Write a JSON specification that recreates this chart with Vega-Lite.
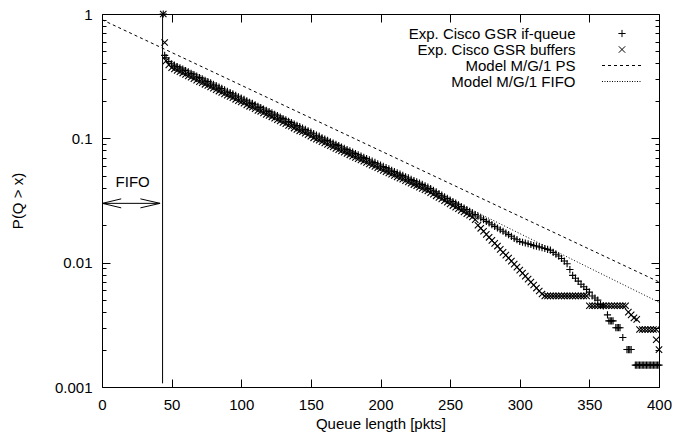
{
"$schema": "https://vega.github.io/schema/vega-lite/v6.json",
"width": 557, "height": 373,
"autosize": "none",
"padding": {"left": 102, "top": 14, "right": 15, "bottom": 49},
"config": {
  "font": "Liberation Sans",
  "view": {"stroke": "black", "strokeWidth": 1},
  "axis": {"domain": false, "grid": false, "tickColor": "black", "tickWidth": 1, "labelColor": "black", "titleColor": "black", "labelFontSize": 15, "titleFontSize": 15, "titleFontWeight": "normal", "labelFlush": false, "labelOverlap": false, "labelBound": false},
  "legend": {"orient": "none", "legendX": 481, "legendY": 12, "title": null, "labelAlign": "right", "labelOffset": -54, "symbolOffset": 31.5, "symbolSize": 64, "symbolStrokeColor": "black", "symbolFillColor": "transparent", "symbolStrokeWidth": 1, "labelFontSize": 15, "labelColor": "black", "labelLimit": 0, "rowPadding": -0.5, "padding": 0}
},
"datasets": {
  "vline": [{"q": 43.5, "p": 0.00107, "p2": 1}],
  "arrow": [{"q": 0.3, "q2": 41.7, "p": 0.03}],
  "heads": [
    {"q": 13.8, "p": 0.0326, "h": "l", "o": 1}, {"q": 0.3, "p": 0.03, "h": "l", "o": 2}, {"q": 13.8, "p": 0.0276, "h": "l", "o": 3},
    {"q": 27.6, "p": 0.0326, "h": "r", "o": 1}, {"q": 41.7, "p": 0.03, "h": "r", "o": 2}, {"q": 27.6, "p": 0.0276, "h": "r", "o": 3}
  ],
  "label": [{"q": 22, "p": 0.0447, "t": "FIFO"}],
  "models": [
    {"q": 0, "p": 0.90, "m": "ps"}, {"q": 400, "p": 0.0070, "m": "ps"},
    {"q": 43.5, "p": 0.45, "m": "fifo"}, {"q": 400, "p": 0.0048, "m": "fifo"}
  ],
  "pts": [
    {"q":44,"p":1.0,"s":"i"},{"q":45,"p":0.465,"s":"i"},{"q":46,"p":0.445,"s":"i"},{"q":48,"p":0.415,"s":"i"},{"q":50,"p":0.398,"s":"i"},
    {"q":52,"p":0.388,"s":"i"},{"q":54,"p":0.378,"s":"i"},{"q":56,"p":0.369,"s":"i"},{"q":58,"p":0.360,"s":"i"},{"q":60,"p":0.351,"s":"i"},
    {"q":62,"p":0.342,"s":"i"},{"q":64,"p":0.333,"s":"i"},{"q":66,"p":0.325,"s":"i"},{"q":68,"p":0.316,"s":"i"},{"q":70,"p":0.308,"s":"i"},
    {"q":72,"p":0.301,"s":"i"},{"q":74,"p":0.293,"s":"i"},{"q":76,"p":0.286,"s":"i"},{"q":78,"p":0.279,"s":"i"},{"q":80,"p":0.272,"s":"i"},
    {"q":82,"p":0.265,"s":"i"},{"q":84,"p":0.258,"s":"i"},{"q":86,"p":0.252,"s":"i"},{"q":88,"p":0.245,"s":"i"},{"q":90,"p":0.239,"s":"i"},
    {"q":92,"p":0.233,"s":"i"},{"q":94,"p":0.228,"s":"i"},{"q":96,"p":0.222,"s":"i"},{"q":98,"p":0.216,"s":"i"},{"q":100,"p":0.211,"s":"i"},
    {"q":102,"p":0.206,"s":"i"},{"q":104,"p":0.200,"s":"i"},{"q":106,"p":0.195,"s":"i"},{"q":108,"p":0.191,"s":"i"},{"q":110,"p":0.186,"s":"i"},
    {"q":112,"p":0.181,"s":"i"},{"q":114,"p":0.177,"s":"i"},{"q":116,"p":0.172,"s":"i"},{"q":118,"p":0.168,"s":"i"},{"q":120,"p":0.164,"s":"i"},
    {"q":122,"p":0.160,"s":"i"},{"q":124,"p":0.156,"s":"i"},{"q":126,"p":0.152,"s":"i"},{"q":128,"p":0.148,"s":"i"},{"q":130,"p":0.144,"s":"i"},
    {"q":132,"p":0.141,"s":"i"},{"q":134,"p":0.137,"s":"i"},{"q":136,"p":0.134,"s":"i"},{"q":138,"p":0.130,"s":"i"},{"q":140,"p":0.127,"s":"i"},
    {"q":142,"p":0.124,"s":"i"},{"q":144,"p":0.121,"s":"i"},{"q":146,"p":0.118,"s":"i"},{"q":148,"p":0.115,"s":"i"},{"q":150,"p":0.112,"s":"i"},
    {"q":152,"p":0.109,"s":"i"},{"q":154,"p":0.106,"s":"i"},{"q":156,"p":0.104,"s":"i"},{"q":158,"p":0.101,"s":"i"},{"q":160,"p":0.0986,"s":"i"},
    {"q":162,"p":0.0962,"s":"i"},{"q":164,"p":0.0938,"s":"i"},{"q":166,"p":0.0916,"s":"i"},{"q":168,"p":0.0894,"s":"i"},{"q":170,"p":0.0873,"s":"i"},
    {"q":172,"p":0.0851,"s":"i"},{"q":174,"p":0.0832,"s":"i"},{"q":176,"p":0.0813,"s":"i"},{"q":178,"p":0.0793,"s":"i"},{"q":180,"p":0.0774,"s":"i"},
    {"q":182,"p":0.0755,"s":"i"},{"q":184,"p":0.0738,"s":"i"},{"q":186,"p":0.0721,"s":"i"},{"q":188,"p":0.0703,"s":"i"},{"q":190,"p":0.0687,"s":"i"},
    {"q":192,"p":0.0670,"s":"i"},{"q":194,"p":0.0655,"s":"i"},{"q":196,"p":0.0640,"s":"i"},{"q":198,"p":0.0624,"s":"i"},{"q":200,"p":0.0610,"s":"i"},
    {"q":202,"p":0.0594,"s":"i"},{"q":204,"p":0.0581,"s":"i"},{"q":206,"p":0.0568,"s":"i"},{"q":208,"p":0.0553,"s":"i"},{"q":210,"p":0.0541,"s":"i"},
    {"q":212,"p":0.0527,"s":"i"},{"q":214,"p":0.0515,"s":"i"},{"q":216,"p":0.0504,"s":"i"},{"q":218,"p":0.0491,"s":"i"},{"q":220,"p":0.0480,"s":"i"},
    {"q":222,"p":0.0468,"s":"i"},{"q":224,"p":0.0457,"s":"i"},{"q":226,"p":0.0447,"s":"i"},{"q":228,"p":0.0436,"s":"i"},{"q":230,"p":0.0426,"s":"i"},
    {"q":232,"p":0.0415,"s":"i"},{"q":234,"p":0.0406,"s":"i"},{"q":236,"p":0.0394,"s":"i"},{"q":238,"p":0.0382,"s":"i"},{"q":240,"p":0.0371,"s":"i"},
    {"q":242,"p":0.0360,"s":"i"},{"q":244,"p":0.0349,"s":"i"},{"q":246,"p":0.0339,"s":"i"},{"q":248,"p":0.0329,"s":"i"},{"q":250,"p":0.0319,"s":"i"},
    {"q":252,"p":0.0310,"s":"i"},{"q":254,"p":0.0301,"s":"i"},{"q":256,"p":0.0292,"s":"i"},{"q":258,"p":0.0283,"s":"i"},{"q":260,"p":0.0275,"s":"i"},
    {"q":262,"p":0.0267,"s":"i"},{"q":264,"p":0.0259,"s":"i"},{"q":266,"p":0.0251,"s":"i"},{"q":268,"p":0.0244,"s":"i"},{"q":270,"p":0.0237,"s":"i"},
    {"q":272,"p":0.0229,"s":"i"},{"q":274,"p":0.0222,"s":"i"},{"q":276,"p":0.0215,"s":"i"},{"q":278,"p":0.0209,"s":"i"},{"q":280,"p":0.0202,"s":"i"},
    {"q":282,"p":0.0196,"s":"i"},{"q":284,"p":0.0190,"s":"i"},{"q":286,"p":0.0184,"s":"i"},{"q":288,"p":0.0179,"s":"i"},{"q":290,"p":0.0173,"s":"i"},
    {"q":292,"p":0.0168,"s":"i"},{"q":294,"p":0.0163,"s":"i"},{"q":296,"p":0.0157,"s":"i"},{"q":298,"p":0.0153,"s":"i"},{"q":300,"p":0.0148,"s":"i"},
    {"q":302,"p":0.0146,"s":"i"},{"q":304,"p":0.0144,"s":"i"},{"q":306,"p":0.0142,"s":"i"},{"q":308,"p":0.0140,"s":"i"},{"q":310,"p":0.0137,"s":"i"},
    {"q":312,"p":0.0136,"s":"i"},{"q":314,"p":0.0134,"s":"i"},{"q":316,"p":0.0132,"s":"i"},{"q":318,"p":0.0130,"s":"i"},{"q":320,"p":0.0128,"s":"i"},
    {"q":322,"p":0.0126,"s":"i"},{"q":324,"p":0.0121,"s":"i"},{"q":326,"p":0.0117,"s":"i"},{"q":328,"p":0.0113,"s":"i"},{"q":330,"p":0.0108,"s":"i"},
    {"q":332,"p":0.0103,"s":"i"},{"q":334,"p":0.0098,"s":"i"},{"q":336,"p":0.0088,"s":"i"},{"q":338,"p":0.0079,"s":"i"},{"q":340,"p":0.0075,"s":"i"},
    {"q":342,"p":0.0071,"s":"i"},{"q":344,"p":0.0067,"s":"i"},{"q":346,"p":0.0064,"s":"i"},{"q":348,"p":0.0061,"s":"i"},{"q":350,"p":0.0058,"s":"i"},
    {"q":352,"p":0.0054,"s":"i"},{"q":354,"p":0.0052,"s":"i"},{"q":356,"p":0.0050,"s":"i"},{"q":358,"p":0.0046,"s":"i"},{"q":360,"p":0.0045,"s":"i"},
    {"q":363,"p":0.0038,"s":"i"},{"q":364,"p":0.0034,"s":"i"},{"q":365,"p":0.0034,"s":"i"},{"q":366,"p":0.0034,"s":"i"},{"q":367,"p":0.0034,"s":"i"},
    {"q":369,"p":0.0030,"s":"i"},{"q":370,"p":0.0030,"s":"i"},{"q":371,"p":0.0030,"s":"i"},{"q":372,"p":0.0030,"s":"i"},{"q":374,"p":0.0025,"s":"i"},
    {"q":377,"p":0.0020,"s":"i"},{"q":378,"p":0.0020,"s":"i"},{"q":379,"p":0.0020,"s":"i"},{"q":380,"p":0.0020,"s":"i"},
    {"q":383,"p":0.0015,"s":"i"},{"q":384,"p":0.0015,"s":"i"},{"q":385,"p":0.0015,"s":"i"},{"q":386,"p":0.0015,"s":"i"},{"q":387,"p":0.0015,"s":"i"},
    {"q":388,"p":0.0015,"s":"i"},{"q":389,"p":0.0015,"s":"i"},{"q":390,"p":0.0015,"s":"i"},{"q":391,"p":0.0015,"s":"i"},{"q":392,"p":0.0015,"s":"i"},
    {"q":393,"p":0.0015,"s":"i"},{"q":394,"p":0.0015,"s":"i"},{"q":395,"p":0.0015,"s":"i"},{"q":396,"p":0.0015,"s":"i"},{"q":397,"p":0.0015,"s":"i"},
    {"q":398,"p":0.0015,"s":"i"},{"q":399,"p":0.0015,"s":"i"},{"q":400,"p":0.0015,"s":"i"},

    {"q":44,"p":1.0,"s":"b"},{"q":45,"p":0.59,"s":"b"},{"q":46,"p":0.42,"s":"b"},{"q":48,"p":0.39,"s":"b"},{"q":50,"p":0.37,"s":"b"},
    {"q":52,"p":0.361,"s":"b"},{"q":54,"p":0.352,"s":"b"},{"q":56,"p":0.343,"s":"b"},{"q":58,"p":0.335,"s":"b"},{"q":60,"p":0.326,"s":"b"},
    {"q":62,"p":0.318,"s":"b"},{"q":64,"p":0.310,"s":"b"},{"q":66,"p":0.302,"s":"b"},{"q":68,"p":0.294,"s":"b"},{"q":70,"p":0.286,"s":"b"},
    {"q":72,"p":0.280,"s":"b"},{"q":74,"p":0.272,"s":"b"},{"q":76,"p":0.266,"s":"b"},{"q":78,"p":0.259,"s":"b"},{"q":80,"p":0.253,"s":"b"},
    {"q":82,"p":0.246,"s":"b"},{"q":84,"p":0.240,"s":"b"},{"q":86,"p":0.234,"s":"b"},{"q":88,"p":0.228,"s":"b"},{"q":90,"p":0.222,"s":"b"},
    {"q":92,"p":0.217,"s":"b"},{"q":94,"p":0.212,"s":"b"},{"q":96,"p":0.206,"s":"b"},{"q":98,"p":0.201,"s":"b"},{"q":100,"p":0.196,"s":"b"},
    {"q":102,"p":0.192,"s":"b"},{"q":104,"p":0.186,"s":"b"},{"q":106,"p":0.181,"s":"b"},{"q":108,"p":0.178,"s":"b"},{"q":110,"p":0.173,"s":"b"},
    {"q":112,"p":0.168,"s":"b"},{"q":114,"p":0.165,"s":"b"},{"q":116,"p":0.160,"s":"b"},{"q":118,"p":0.156,"s":"b"},{"q":120,"p":0.153,"s":"b"},
    {"q":122,"p":0.149,"s":"b"},{"q":124,"p":0.145,"s":"b"},{"q":126,"p":0.141,"s":"b"},{"q":128,"p":0.138,"s":"b"},{"q":130,"p":0.134,"s":"b"},
    {"q":132,"p":0.131,"s":"b"},{"q":134,"p":0.127,"s":"b"},{"q":136,"p":0.125,"s":"b"},{"q":138,"p":0.121,"s":"b"},{"q":140,"p":0.118,"s":"b"},
    {"q":142,"p":0.115,"s":"b"},{"q":144,"p":0.113,"s":"b"},{"q":146,"p":0.110,"s":"b"},{"q":148,"p":0.107,"s":"b"},{"q":150,"p":0.104,"s":"b"},
    {"q":152,"p":0.101,"s":"b"},{"q":154,"p":0.0986,"s":"b"},{"q":156,"p":0.0967,"s":"b"},{"q":158,"p":0.0939,"s":"b"},{"q":160,"p":0.0917,"s":"b"},
    {"q":162,"p":0.0895,"s":"b"},{"q":164,"p":0.0872,"s":"b"},{"q":166,"p":0.0852,"s":"b"},{"q":168,"p":0.0831,"s":"b"},{"q":170,"p":0.0812,"s":"b"},
    {"q":172,"p":0.0791,"s":"b"},{"q":174,"p":0.0774,"s":"b"},{"q":176,"p":0.0756,"s":"b"},{"q":178,"p":0.0737,"s":"b"},{"q":180,"p":0.0720,"s":"b"},
    {"q":182,"p":0.0702,"s":"b"},{"q":184,"p":0.0686,"s":"b"},{"q":186,"p":0.0671,"s":"b"},{"q":188,"p":0.0654,"s":"b"},{"q":190,"p":0.0639,"s":"b"},
    {"q":192,"p":0.0623,"s":"b"},{"q":194,"p":0.0609,"s":"b"},{"q":196,"p":0.0595,"s":"b"},{"q":198,"p":0.0580,"s":"b"},{"q":200,"p":0.0567,"s":"b"},
    {"q":202,"p":0.0552,"s":"b"},{"q":204,"p":0.0540,"s":"b"},{"q":206,"p":0.0528,"s":"b"},{"q":208,"p":0.0514,"s":"b"},{"q":210,"p":0.0503,"s":"b"},
    {"q":212,"p":0.0490,"s":"b"},{"q":214,"p":0.0479,"s":"b"},{"q":216,"p":0.0469,"s":"b"},{"q":218,"p":0.0457,"s":"b"},{"q":220,"p":0.0446,"s":"b"},
    {"q":222,"p":0.0435,"s":"b"},{"q":224,"p":0.0425,"s":"b"},{"q":226,"p":0.0416,"s":"b"},{"q":228,"p":0.0405,"s":"b"},{"q":230,"p":0.0396,"s":"b"},
    {"q":232,"p":0.0386,"s":"b"},{"q":234,"p":0.0378,"s":"b"},{"q":236,"p":0.0366,"s":"b"},{"q":238,"p":0.0355,"s":"b"},{"q":240,"p":0.0345,"s":"b"},
    {"q":242,"p":0.0335,"s":"b"},{"q":244,"p":0.0325,"s":"b"},{"q":246,"p":0.0315,"s":"b"},{"q":248,"p":0.0306,"s":"b"},{"q":250,"p":0.0297,"s":"b"},
    {"q":252,"p":0.0288,"s":"b"},{"q":254,"p":0.0280,"s":"b"},{"q":256,"p":0.0272,"s":"b"},{"q":258,"p":0.0263,"s":"b"},{"q":260,"p":0.0256,"s":"b"},
    {"q":262,"p":0.0248,"s":"b"},{"q":264,"p":0.0241,"s":"b"},{"q":266,"p":0.0233,"s":"b"},{"q":268,"p":0.0222,"s":"b"},{"q":270,"p":0.0200,"s":"b"},
    {"q":272,"p":0.0189,"s":"b"},{"q":274,"p":0.0179,"s":"b"},{"q":276,"p":0.0169,"s":"b"},{"q":278,"p":0.0160,"s":"b"},{"q":280,"p":0.0151,"s":"b"},
    {"q":282,"p":0.0143,"s":"b"},{"q":284,"p":0.0136,"s":"b"},{"q":286,"p":0.0128,"s":"b"},{"q":288,"p":0.0121,"s":"b"},{"q":290,"p":0.0115,"s":"b"},
    {"q":292,"p":0.0109,"s":"b"},{"q":294,"p":0.0103,"s":"b"},{"q":296,"p":0.00973,"s":"b"},{"q":298,"p":0.00920,"s":"b"},{"q":300,"p":0.00871,"s":"b"},
    {"q":302,"p":0.00824,"s":"b"},{"q":304,"p":0.00780,"s":"b"},{"q":306,"p":0.00738,"s":"b"},{"q":308,"p":0.00698,"s":"b"},{"q":310,"p":0.00661,"s":"b"},
    {"q":312,"p":0.00625,"s":"b"},{"q":314,"p":0.00592,"s":"b"},{"q":316,"p":0.00560,"s":"b"},
    {"q":318,"p":0.0054,"s":"b"},{"q":320,"p":0.0054,"s":"b"},{"q":322,"p":0.0054,"s":"b"},{"q":324,"p":0.0054,"s":"b"},{"q":326,"p":0.0054,"s":"b"},
    {"q":328,"p":0.0054,"s":"b"},{"q":330,"p":0.0054,"s":"b"},{"q":332,"p":0.0054,"s":"b"},{"q":334,"p":0.0054,"s":"b"},{"q":336,"p":0.0054,"s":"b"},
    {"q":338,"p":0.0054,"s":"b"},{"q":340,"p":0.0054,"s":"b"},{"q":342,"p":0.0054,"s":"b"},{"q":344,"p":0.0054,"s":"b"},{"q":346,"p":0.0054,"s":"b"},
    {"q":348,"p":0.0054,"s":"b"},
    {"q":350,"p":0.0045,"s":"b"},{"q":352,"p":0.0045,"s":"b"},{"q":354,"p":0.0045,"s":"b"},{"q":356,"p":0.0045,"s":"b"},{"q":358,"p":0.0045,"s":"b"},
    {"q":360,"p":0.0045,"s":"b"},{"q":362,"p":0.0045,"s":"b"},{"q":364,"p":0.0045,"s":"b"},{"q":366,"p":0.0045,"s":"b"},{"q":368,"p":0.0045,"s":"b"},
    {"q":370,"p":0.0045,"s":"b"},{"q":372,"p":0.0045,"s":"b"},{"q":374,"p":0.0045,"s":"b"},{"q":376,"p":0.0045,"s":"b"},
    {"q":378,"p":0.0040,"s":"b"},{"q":380,"p":0.0038,"s":"b"},{"q":382,"p":0.0036,"s":"b"},{"q":384,"p":0.0035,"s":"b"},
    {"q":386,"p":0.0029,"s":"b"},{"q":388,"p":0.0029,"s":"b"},{"q":390,"p":0.0029,"s":"b"},{"q":392,"p":0.0029,"s":"b"},{"q":394,"p":0.0029,"s":"b"},
    {"q":396,"p":0.0029,"s":"b"},{"q":398,"p":0.0029,"s":"b"},{"q":398,"p":0.0024,"s":"b"},{"q":400,"p":0.0020,"s":"b"}
  ]
},
"resolve": {"axis": {"x": "independent", "y": "independent"}},
"layer": [
  {
    "data": {"name": "vline"},
    "mark": {"type": "rule", "color": "black", "strokeWidth": 1},
    "encoding": {
      "x": {"field": "q", "type": "quantitative", "scale": {"domain": [0, 400], "nice": false, "zero": false},
            "axis": {"orient": "bottom", "values": [0, 50, 100, 150, 200, 250, 300, 350, 400], "tickSize": -8, "labelPadding": 18, "title": "Queue length [pkts]", "titlePadding": 4}},
      "y": {"field": "p", "type": "quantitative", "scale": {"type": "log", "domain": [0.001, 1], "nice": false},
            "axis": {"orient": "left", "values": [0.001, 0.01, 0.1, 1], "format": "~g", "tickSize": -8, "labelPadding": 18, "title": "P(Q > x)", "titlePadding": 29}},
      "y2": {"field": "p2"}
    }
  },
  {
    "data": {"name": "pts"},
    "mark": {"type": "point", "filled": false, "color": "black", "strokeWidth": 1.1, "size": 64, "opacity": 1},
    "encoding": {
      "x": {"field": "q", "type": "quantitative",
            "axis": {"orient": "top", "values": [0, 50, 100, 150, 200, 250, 300, 350, 400], "tickSize": -8, "labels": false, "title": null}},
      "y": {"field": "p", "type": "quantitative",
            "axis": {"orient": "left", "values": [0.002,0.003,0.004,0.005,0.006,0.007,0.008,0.009,0.02,0.03,0.04,0.05,0.06,0.07,0.08,0.09,0.2,0.3,0.4,0.5,0.6,0.7,0.8,0.9], "tickSize": -4, "labels": false, "title": null}},
      "shape": {"field": "s", "type": "nominal",
                "scale": {"domain": ["i", "b", "ps", "fifo"],
                          "range": ["M-0.9,0L0.9,0M0,-0.9L0,0.9",
                                    "M-0.8,-0.8L0.8,0.8M-0.8,0.8L0.8,-0.8",
                                    "M-5,0L-4.25,0M-3.5,0L-2.75,0M-2,0L-1.25,0M-0.5,0L0.25,0M1,0L1.75,0M2.5,0L3.25,0M4,0L4.75,0",
                                    "M-5,0L-4.75,0M-4.375,0L-4.125,0M-3.75,0L-3.5,0M-3.125,0L-2.875,0M-2.5,0L-2.25,0M-1.875,0L-1.625,0M-1.25,0L-1,0M-0.625,0L-0.375,0M0,0L0.25,0M0.625,0L0.875,0M1.25,0L1.5,0M1.875,0L2.125,0M2.5,0L2.75,0M3.125,0L3.375,0M3.75,0L4,0M4.375,0L4.625,0"]},
                "legend": {"labelExpr": "datum.label == 'i' ? 'Exp. Cisco GSR if-queue' : datum.label == 'b' ? 'Exp. Cisco GSR buffers' : datum.label == 'ps' ? 'Model M/G/1 PS' : 'Model M/G/1 FIFO'"}}
    }
  },
  {
    "data": {"name": "models"},
    "mark": {"type": "line", "color": "black", "strokeWidth": 1},
    "encoding": {
      "x": {"field": "q", "type": "quantitative", "axis": null},
      "y": {"field": "p", "type": "quantitative",
            "axis": {"orient": "right", "values": [0.001, 0.01, 0.1, 1], "tickSize": -8, "labels": false, "title": null}},
      "strokeDash": {"field": "m", "type": "nominal", "scale": {"domain": ["ps", "fifo"], "range": [[3, 3], [1, 2]]}, "legend": null}
    }
  },
  {
    "data": {"name": "heads"},
    "mark": {"type": "line", "color": "black", "strokeWidth": 1},
    "encoding": {
      "x": {"field": "q", "type": "quantitative", "axis": null},
      "y": {"field": "p", "type": "quantitative",
            "axis": {"orient": "right", "values": [0.002,0.003,0.004,0.005,0.006,0.007,0.008,0.009,0.02,0.03,0.04,0.05,0.06,0.07,0.08,0.09,0.2,0.3,0.4,0.5,0.6,0.7,0.8,0.9], "tickSize": -4, "labels": false, "title": null}},
      "detail": {"field": "h"},
      "order": {"field": "o", "type": "quantitative"}
    }
  },
  {
    "data": {"name": "arrow"},
    "mark": {"type": "rule", "color": "black", "strokeWidth": 1},
    "encoding": {
      "x": {"field": "q", "type": "quantitative", "axis": null},
      "x2": {"field": "q2"},
      "y": {"field": "p", "type": "quantitative", "axis": null}
    }
  },
  {
    "data": {"name": "label"},
    "mark": {"type": "text", "fontSize": 15, "color": "black", "align": "center", "baseline": "middle"},
    "encoding": {
      "x": {"field": "q", "type": "quantitative", "axis": null},
      "y": {"field": "p", "type": "quantitative", "axis": null},
      "text": {"field": "t"}
    }
  }
]
}
